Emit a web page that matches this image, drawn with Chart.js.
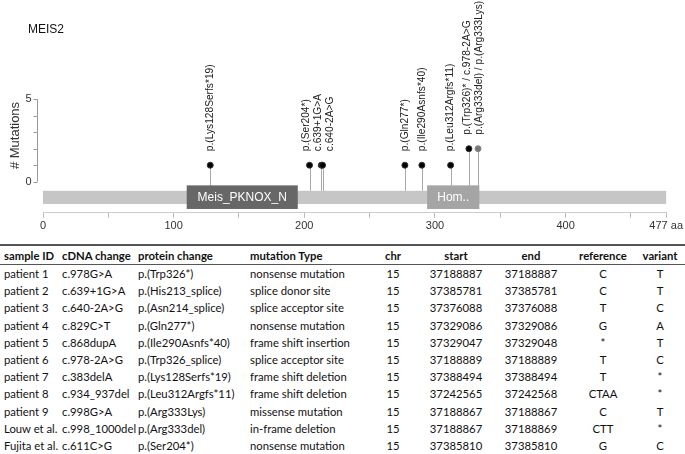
<!DOCTYPE html>
<html>
<head>
<meta charset="utf-8">
<script src="https://cdn.jsdelivr.net/npm/chart.js@4.4.1/dist/chart.umd.min.js"></script>
<style>
  body { margin: 0; background: #fff; width: 685px; height: 454px; overflow: hidden; }
  #wrap { position: relative; width: 685px; height: 238px; }
  table { position: absolute; top: 244px; left: 0; width: 685px; border-collapse: collapse; table-layout: fixed;
          font-family: Lato, "Open Sans", sans-serif; font-size: 11.3px; color: #111; }
  thead tr { border-top: 2px solid #555; border-bottom: 1px solid #555; }
  tbody tr:last-child { border-bottom: 2px solid #555; }
  th { font-weight: bold; height: 18px; padding: 0 0 0 4px; white-space: nowrap; overflow: visible; }
  td { height: 17.2px; padding: 0 0 0 4px; white-space: nowrap; overflow: visible; }
  .c { text-align: center; padding: 0; }
  .l { text-align: left; }
</style>
</head>
<body>
<div id="wrap"><canvas id="chart" width="685" height="238"></canvas></div>
<table id="tbl"></table>
<script>
// lollipop data
const mutPos = [128, 204, 213, 214, 277, 290, 312, 326, 333];
const mutCount = [1, 1, 1, 1, 1, 1, 1, 2, 2];
const mutLabels = ['p.(Lys128Serfs*19)', 'p.(Ser204*)', 'c.639+1G>A', 'c.640-2A>G', 'p.(Gln277*)',
                   'p.(Ile290Asnfs*40)', 'p.(Leu312Argfs*11)', 'p.(Trp326)* / c.978-2A>G',
                   'p.(Arg333del) / p.(Arg333Lys)'];
const mutColors = ['#000', '#000', '#000', '#000', '#000', '#000', '#000', '#000', '#777'];

const proteinLength = 477;
const domainNames = ['Meis_PKNOX_N', 'Hom..'];
const domainStart = [110, 294];
const domainEnd = [195, 334];
const domainColors = ['#676767', '#a5a5a5'];

const xTicks = [0, 50, 100, 150, 200, 250, 300, 350, 400, 450, 477];
const yTicks = [0, 1, 2, 3, 4, 5];

// table data
const sampleIds = ['patient 1', 'patient 2', 'patient 3', 'patient 4', 'patient 5', 'patient 6', 'patient 7',
                   'patient 8', 'patient 9', 'Louw et al.', 'Fujita et al.'];
const cdnaChange = ['c.978G>A', 'c.639+1G>A', 'c.640-2A>G', 'c.829C>T', 'c.868dupA', 'c.978-2A>G', 'c.383delA',
                    'c.934_937del', 'c.998G>A', 'c.998_1000del', 'c.611C>G'];
const proteinChange = ['p.(Trp326*)', 'p.(His213_splice)', 'p.(Asn214_splice)', 'p.(Gln277*)', 'p.(Ile290Asnfs*40)',
                       'p.(Trp326_splice)', 'p.(Lys128Serfs*19)', 'p.(Leu312Argfs*11)', 'p.(Arg333Lys)',
                       'p.(Arg333del)', 'p.(Ser204*)'];
const mutationType = ['nonsense mutation', 'splice donor site', 'splice acceptor site', 'nonsense mutation',
                      'frame shift insertion', 'splice acceptor site', 'frame shift deletion', 'frame shift deletion',
                      'missense mutation', 'in-frame deletion', 'nonsense mutation'];
const chrom = ['15', '15', '15', '15', '15', '15', '15', '15', '15', '15', '15'];
const startPos = ['37188887', '37385781', '37376088', '37329086', '37329047', '37188889', '37388494', '37242565',
                  '37188867', '37188867', '37385810'];
const endPos = ['37188887', '37385781', '37376088', '37329086', '37329048', '37188889', '37388494', '37242568',
                '37188867', '37188869', '37385810'];
const refAllele = ['C', 'C', 'T', 'G', '*', 'T', 'T', 'CTAA', 'C', 'CTT', 'G'];
const varAllele = ['T', 'T', 'C', 'A', 'T', 'C', '*', '*', 'T', '*', 'C'];

// build table
const cols = [
  ['sample ID', sampleIds, 'l', 58], ['cDNA change', cdnaChange, 'l', 76], ['protein change', proteinChange, 'l', 112],
  ['mutation Type', mutationType, 'l', 119], ['chr', chrom, 'c', 56], ['start', startPos, 'c', 70],
  ['end', endPos, 'c', 80], ['reference', refAllele, 'c', 64], ['variant', varAllele, 'c', 50]
];
let html = '<colgroup>' + cols.map(c => '<col style="width:' + c[3] + 'px">').join('') + '</colgroup>';
html += '<thead><tr>' + cols.map(c => '<th class="' + c[2] + '">' + c[0] + '</th>').join('') + '</tr></thead><tbody>';
for (let i = 0; i < sampleIds.length; i++) {
  html += '<tr>' + cols.map(c => '<td class="' + c[2] + '">' + c[1][i] + '</td>').join('') + '</tr>';
}
html += '</tbody>';
document.getElementById('tbl').innerHTML = html;

// spread labels that would overlap
function spreadLabels(xs, gap) {
  let groups = xs.map(x => ({ xs: [x], c: x }));
  let moved = true;
  while (moved) {
    moved = false;
    for (let i = 0; i < groups.length - 1; i++) {
      const a = groups[i], b = groups[i + 1];
      const aEnd = a.c + (a.xs.length - 1) * gap / 2;
      const bStart = b.c - (b.xs.length - 1) * gap / 2;
      if (bStart - aEnd < gap) {
        const all = a.xs.concat(b.xs);
        const mean = all.reduce((s, v) => s + v, 0) / all.length;
        groups.splice(i, 2, { xs: all, c: mean });
        moved = true;
        break;
      }
    }
  }
  const out = [];
  groups.forEach(g => g.xs.forEach((x, k) => out.push(g.c + (k - (g.xs.length - 1) / 2) * gap)));
  return out;
}

const lollipop = {
  id: 'lollipop',
  beforeDatasetsDraw(chart) {
    const ctx = chart.ctx, x = chart.scales.x, y = chart.scales.y;
    ctx.save();
    // stems
    const barTop = y.getPixelForValue(-0.55);
    ctx.strokeStyle = '#a8a8a8';
    ctx.lineWidth = 1;
    mutPos.forEach((p, i) => {
      const px = Math.round(x.getPixelForValue(p)) + 0.5;
      ctx.beginPath();
      ctx.moveTo(px, y.getPixelForValue(mutCount[i]));
      ctx.lineTo(px, barTop);
      ctx.stroke();
    });
    // protein backbone
    const b1 = y.getPixelForValue(-1.35);
    ctx.fillStyle = '#c6c6c6';
    ctx.fillRect(x.getPixelForValue(0), barTop, x.getPixelForValue(proteinLength) - x.getPixelForValue(0), b1 - barTop);
    // domains
    const d0 = y.getPixelForValue(-0.22), d1 = y.getPixelForValue(-1.65);
    ctx.font = '12px "Liberation Sans", Arial, sans-serif';
    ctx.textAlign = 'center';
    ctx.textBaseline = 'middle';
    domainNames.forEach((n, i) => {
      const l = x.getPixelForValue(domainStart[i]), r = x.getPixelForValue(domainEnd[i]);
      ctx.fillStyle = domainColors[i];
      ctx.fillRect(l, d0, r - l, d1 - d0);
      ctx.fillStyle = '#fff';
      ctx.fillText(n, (l + r) / 2, (d0 + d1) / 2 + 1);
    });
    ctx.restore();
  },
  afterDatasetsDraw(chart) {
    const ctx = chart.ctx, x = chart.scales.x, y = chart.scales.y;
    ctx.save();
    // mutation labels
    const lx = spreadLabels(mutPos.map(p => x.getPixelForValue(p)), 12);
    ctx.font = '10.2px "Liberation Sans", Arial, sans-serif';
    ctx.fillStyle = '#222';
    ctx.textAlign = 'left';
    ctx.textBaseline = 'middle';
    mutLabels.forEach((t, i) => {
      ctx.save();
      ctx.translate(lx[i], y.getPixelForValue(mutCount[i]) - 14);
      ctx.rotate(-Math.PI / 2);
      ctx.fillText(t, 0, 0);
      ctx.restore();
    });
    // y axis (0..5 only)
    const ax = chart.chartArea.left - 5.5;
    ctx.strokeStyle = '#999';
    ctx.lineWidth = 1;
    ctx.beginPath();
    ctx.moveTo(ax, y.getPixelForValue(0));
    ctx.lineTo(ax, y.getPixelForValue(5));
    yTicks.forEach(v => {
      const py = Math.round(y.getPixelForValue(v)) + 0.5;
      ctx.moveTo(ax, py);
      ctx.lineTo(ax - 4, py);
    });
    ctx.stroke();
    ctx.font = '11px "Liberation Sans", Arial, sans-serif';
    ctx.fillStyle = '#333';
    ctx.textAlign = 'right';
    [0, 5].forEach(v => ctx.fillText(String(v), ax - 6, y.getPixelForValue(v)));
    // y title
    ctx.save();
    ctx.translate(15, y.getPixelForValue(2.8));
    ctx.rotate(-Math.PI / 2);
    ctx.textAlign = 'center';
    ctx.font = '13px "Liberation Sans", Arial, sans-serif';
    ctx.fillText('# Mutations', 0, 0);
    ctx.restore();
    // gene title
    ctx.font = '12px "Liberation Sans", Arial, sans-serif';
    ctx.fillStyle = '#111';
    ctx.textAlign = 'left';
    ctx.fillText('MEIS2', 28, 30);
    ctx.restore();
  }
};

new Chart(document.getElementById('chart'), {
  type: 'scatter',
  data: {
    datasets: [{
      data: mutPos.map((p, i) => ({ x: p, y: mutCount[i] })),
      pointRadius: 3,
      pointHoverRadius: 3,
      pointBackgroundColor: mutColors,
      pointBorderColor: mutColors.map(c => c === '#000' ? '#333' : '#888'),
      pointBorderWidth: 1
    }]
  },
  options: {
    responsive: false,
    animation: false,
    devicePixelRatio: 1,
    layout: { padding: { left: 43, right: 17, top: 0, bottom: 3 } },
    plugins: { legend: { display: false }, tooltip: { enabled: false } },
    scales: {
      x: {
        type: 'linear',
        min: 0,
        max: proteinLength,
        afterBuildTicks: s => { s.ticks = xTicks.map(v => ({ value: v })); },
        border: { display: true, color: '#ccc' },
        grid: { drawOnChartArea: false, tickLength: 5, color: '#bbb' },
        ticks: {
          autoSkip: false,
          maxRotation: 0,
          padding: 2,
          color: '#333',
          font: { family: '"Liberation Sans", Arial, sans-serif', size: 11 },
          callback: v => v === proteinLength ? '477 aa' : (v % 100 === 0 ? String(v) : '')
        }
      },
      y: {
        display: false,
        min: -1.882,
        max: 10.765
      }
    }
  },
  plugins: [lollipop]
});
</script>
</body>
</html>
